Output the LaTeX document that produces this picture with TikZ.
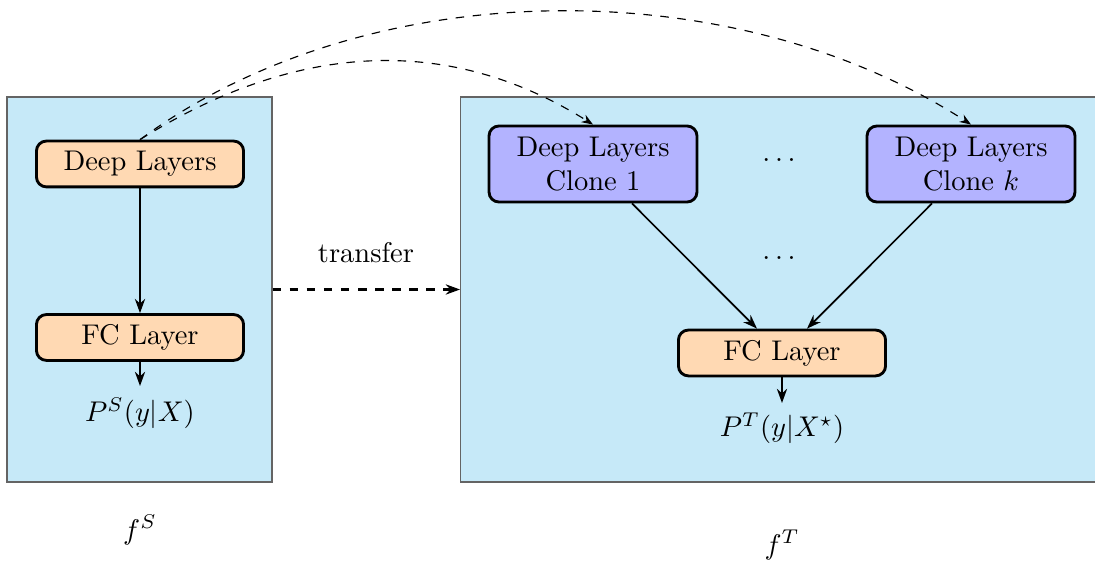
\documentclass[tikz,border=0pt]{standalone}
\usetikzlibrary{arrows.meta,calc}
\definecolor{panelblue}{RGB}{198,233,248}
\definecolor{layerorange}{RGB}{255,217,179}
\definecolor{clonepurple}{RGB}{179,179,255}
\definecolor{panelgray}{RGB}{100,100,100}
\begin{document}
\begin{tikzpicture}[x=0.351pt,y=-0.351pt,
  panel/.style={draw=panelgray,line width=0.4pt,fill=panelblue,inner sep=0pt},
  layer/.style={draw,line width=1pt,rounded corners=3.5pt,fill=layerorange,minimum width=72.7pt,minimum height=16.1pt,inner sep=1pt},
  clonebox/.style={draw,line width=1pt,rounded corners=3.5pt,fill=clonepurple,minimum width=73pt,minimum height=26.7pt,inner sep=1pt,align=center},
  flow/.style={semithick,-{Stealth[length=5pt,width=3.6pt]}},
  xfer/.style={thick,dashed,-{Stealth[length=5pt,width=3.6pt]}},
  link/.style={thin,dashed,-{Stealth[length=4pt,width=3pt]}},
  plain/.style={inner sep=1pt}]
\clip (0,0) rectangle (1095,561);
% panels
\node[panel,minimum width=93pt,minimum height=135.1pt] (lbox) at (139.5,289.5) {};
\node[panel,minimum width=224.6pt,minimum height=135.1pt,anchor=west] (rbox) at (460,289.5) {};
% left network
\node[layer] (dl) at (140,164) {Deep Layers};
\node[layer] (fcl) at (140,337.5) {FC Layer};
\coordinate (pst) at (140,386);
\node[plain] (ps) at (140,413) {$P^S(y|X)$};
\node[plain] (fs) at (140,530) {$f^S$};
% right network
\node[clonebox] (c1) at (593,164) {Deep Layers\\Clone 1};
\node[clonebox] (ck) at (971,164) {Deep Layers\\Clone $k$};
\node[plain] (dots1) at (779,160) {$\ldots$};
\node[plain] (dots2) at (779,258) {$\ldots$};
\node[layer] (fcr) at (782,353) {FC Layer};
\coordinate (ptt) at (782,403);
\node[plain] (pt) at (782,428) {$P^T(y|X^\star)$};
\node[plain] (ft) at (782,545) {$f^T$};
\node[plain] (tr) at (366,253) {transfer};
% connectors
\draw[flow] (dl) -- (fcl);
\draw[flow] (fcl) -- (pst);
\draw[flow] ($(c1.south)+(39,0)$) -- ($(fcr.north)+(-25,0)$);
\draw[flow] ($(ck.south)+(-39,0)$) -- ($(fcr.north)+(25,0)$);
\draw[flow] (fcr) -- (ptt);
\draw[xfer] (lbox.east) -- (rbox.west);
\draw[link] (dl.north) .. controls +(150,-94) and +(-150,-94) .. (c1.north);
\draw[link] (dl.north) .. controls +(228,-168) and +(-238,-154) .. (ck.north);
\end{tikzpicture}
\end{document}
